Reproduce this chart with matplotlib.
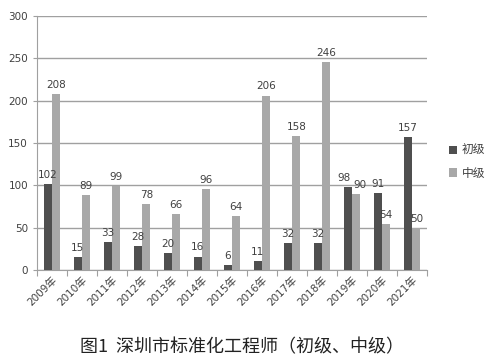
import matplotlib.pyplot as plt
import numpy as np

plt.rcParams['font.family'] = ['DejaVu Sans', 'Noto Sans CJK SC']

# data
years = ['2009年', '2010年', '2011年', '2012年', '2013年', '2014年', '2015年',
         '2016年', '2017年', '2018年', '2019年', '2020年', '2021年']
junior = [102, 15, 33, 28, 20, 16, 6, 11, 32, 32, 98, 91, 157]
middle = [208, 89, 99, 78, 66, 96, 64, 206, 158, 246, 90, 54, 50]

dark = '#4f4f4f'
light = '#a8a8a8'
text_col = '#404040'

fig = plt.figure(figsize=(4.98, 3.64), dpi=100)
ax = fig.add_axes([0.0743, 0.258, 0.783, 0.698])

x = np.arange(len(years))
w = 0.27
b1 = ax.bar(x - w / 2 - 0.01, junior, w, color=dark, label='初级', zorder=3)
b2 = ax.bar(x + w / 2 + 0.01, middle, w, color=light, label='中级', zorder=3)
lab1 = ax.bar_label(b1, padding=3, fontsize=7.5, color=text_col)
lab2 = ax.bar_label(b2, padding=3, fontsize=7.5, color=text_col)
# 2019 labels sit side by side, nudge them apart a little
lab1[10].xyann = (-2.5, 3)
lab2[10].xyann = (2.5, 3)

ax.set_xlim(-0.5, len(years) - 0.5)
ax.set_ylim(0, 300)
ax.set_yticks(range(0, 301, 50))
ax.yaxis.grid(True, color='#a0a0a0', linewidth=1, zorder=0)
ax.tick_params(axis='y', labelsize=7.5, colors=text_col, length=3, color='#a0a0a0')

# tick marks between categories, labels at the centres
ax.set_xticks(np.arange(-0.5, len(years), 1))
ax.set_xticklabels([])
ax.tick_params(axis='x', which='major', length=4, color='#a0a0a0')
ax.set_xticks(x, minor=True)
ax.set_xticklabels(years, minor=True, rotation=45, ha='right',
                   rotation_mode='anchor', fontsize=7.5, color=text_col)
ax.tick_params(axis='x', which='minor', length=0, pad=3)

for s in ['top', 'right']:
    ax.spines[s].set_visible(False)
for s in ['left', 'bottom']:
    ax.spines[s].set_color('#a0a0a0')

fig.legend(loc='center left', bbox_to_anchor=(0.88, 0.555), frameon=False,
           fontsize=8.5, handlelength=0.7, handleheight=0.7, labelspacing=0.8,
           handletextpad=0.4, labelcolor=text_col)

fig.text(0.485, 0.045, '图1  深圳市标准化工程师（初级、中级）', ha='center', va='center',
         fontsize=13, family=['Noto Sans CJK SC'], color='#222222')

fig.savefig('out.png', dpi=100)
